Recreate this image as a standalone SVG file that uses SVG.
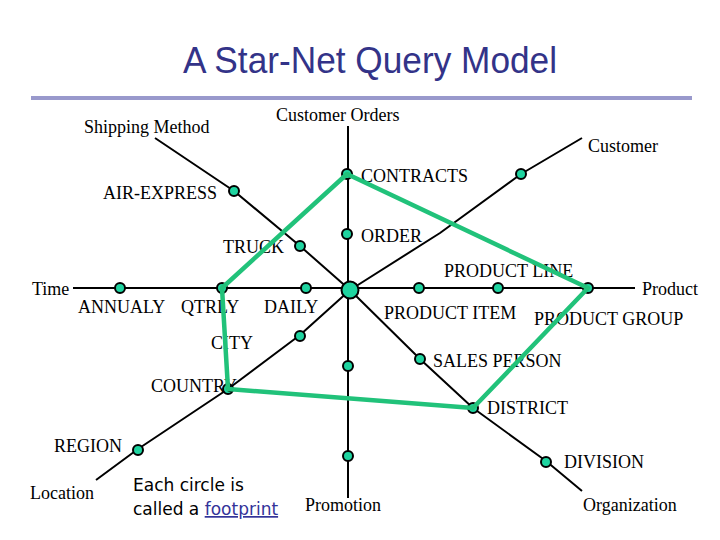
<svg xmlns="http://www.w3.org/2000/svg" width="720" height="540" viewBox="0 0 720 540">
<style>
.t{font-family:"Liberation Serif","Times New Roman",serif;font-size:18px;fill:#000}
.ax{fill:none;stroke:#000;stroke-width:2;stroke-linejoin:round}
.fp{fill:#1FD4A0;stroke:#000;stroke-width:2}
.q{fill:none;stroke:#21C27A;stroke-width:4.5;stroke-linejoin:round}
.note{font-family:"DejaVu Sans","Verdana",sans-serif;font-size:17px;fill:#000}
</style>
<rect width="720" height="540" fill="#fff"/>
<text x="370" y="73" text-anchor="middle" font-family="Liberation Sans, Arial, sans-serif" font-size="36" fill="#333388" textLength="374" lengthAdjust="spacingAndGlyphs">A Star-Net Query Model</text>
<rect x="31" y="96" width="661" height="4" fill="#9999CC"/>

<g id="connectors">
<polyline class="ax" points="348,126 348,498"/>
<polyline class="ax" points="73,288 635,288"/>
<polyline class="ax" points="155,138 234,191 300,246 350,290"/>
<polyline class="ax" points="582,138 521,174 440,233 350,290"/>
<polyline class="ax" points="96,480 138,449 228,389 300,335 350,290"/>
<polyline class="ax" points="350,290 420,359 473,408 546,461 582,491"/>
</g>

<g id="dim-customer-orders"><text class="t" x="276" y="121">Customer Orders</text></g>
<g id="dim-shipping-method"><text class="t" x="84" y="133">Shipping Method</text></g>
<g id="dim-customer"><text class="t" x="588" y="152">Customer</text></g>
<g id="dim-time"><text class="t" x="32" y="295">Time</text></g>
<g id="dim-product"><text class="t" x="642" y="295">Product</text></g>
<g id="dim-location"><text class="t" x="30" y="499">Location</text></g>
<g id="dim-promotion"><text class="t" x="305" y="511">Promotion</text></g>
<g id="dim-organization"><text class="t" x="583" y="511">Organization</text></g>

<g id="center"><circle cx="350" cy="290" r="8.5" class="fp"/></g>

<g id="fp-contracts"><circle cx="347" cy="174" r="5" class="fp"/><text class="t" x="361" y="182">CONTRACTS</text></g>
<g id="fp-order"><circle cx="347" cy="234" r="5" class="fp"/><text class="t" x="361" y="242">ORDER</text></g>
<g id="fp-promo1"><circle cx="348" cy="366" r="5" class="fp"/></g>
<g id="fp-promo2"><circle cx="348" cy="456" r="5" class="fp"/></g>
<g id="fp-air-express"><circle cx="234" cy="191" r="5" class="fp"/><text class="t" x="103" y="199">AIR-EXPRESS</text></g>
<g id="fp-truck"><circle cx="300" cy="246" r="5" class="fp"/><text class="t" x="223" y="253">TRUCK</text></g>
<g id="fp-customer"><circle cx="521" cy="174" r="5" class="fp"/></g>
<g id="fp-annualy"><circle cx="120" cy="288" r="5" class="fp"/><text class="t" x="78" y="313">ANNUALY</text></g>
<g id="fp-qtrly"><circle cx="222" cy="288" r="5" class="fp"/><text class="t" x="181" y="313">QTRLY</text></g>
<g id="fp-daily"><circle cx="306" cy="288" r="5" class="fp"/><text class="t" x="264" y="313">DAILY</text></g>
<g id="fp-product-item"><circle cx="419" cy="288" r="5" class="fp"/><text class="t" x="384" y="319">PRODUCT ITEM</text></g>
<g id="fp-product-line"><circle cx="498" cy="288" r="5" class="fp"/><text class="t" x="444" y="277">PRODUCT LINE</text></g>
<g id="fp-product-group"><circle cx="588" cy="288" r="5" class="fp"/><text class="t" x="534" y="325">PRODUCT GROUP</text></g>
<g id="fp-city"><circle cx="300" cy="336" r="5" class="fp"/><text class="t" x="211" y="349">CITY</text></g>
<g id="fp-country"><circle cx="228" cy="389" r="5" class="fp"/><text class="t" x="151" y="392">COUNTRY</text></g>
<g id="fp-region"><circle cx="138" cy="450" r="5" class="fp"/><text class="t" x="54" y="452">REGION</text></g>
<g id="fp-sales-person"><circle cx="420" cy="359" r="5" class="fp"/><text class="t" x="433" y="367">SALES PERSON</text></g>
<g id="fp-district"><circle cx="473" cy="408" r="5" class="fp"/><text class="t" x="487" y="414">DISTRICT</text></g>
<g id="fp-division"><circle cx="546" cy="462" r="5" class="fp"/><text class="t" x="564" y="468">DIVISION</text></g>

<g id="query-footprint">
<polygon class="q" points="347,174 588,288 473,408 228,389 222,288"/>
</g>

<g id="note">
<text class="note" x="133" y="491">Each circle is</text>
<text class="note" x="133" y="515">called a <tspan fill="#333399" text-decoration="underline">footprint</tspan></text>
</g>
</svg>
